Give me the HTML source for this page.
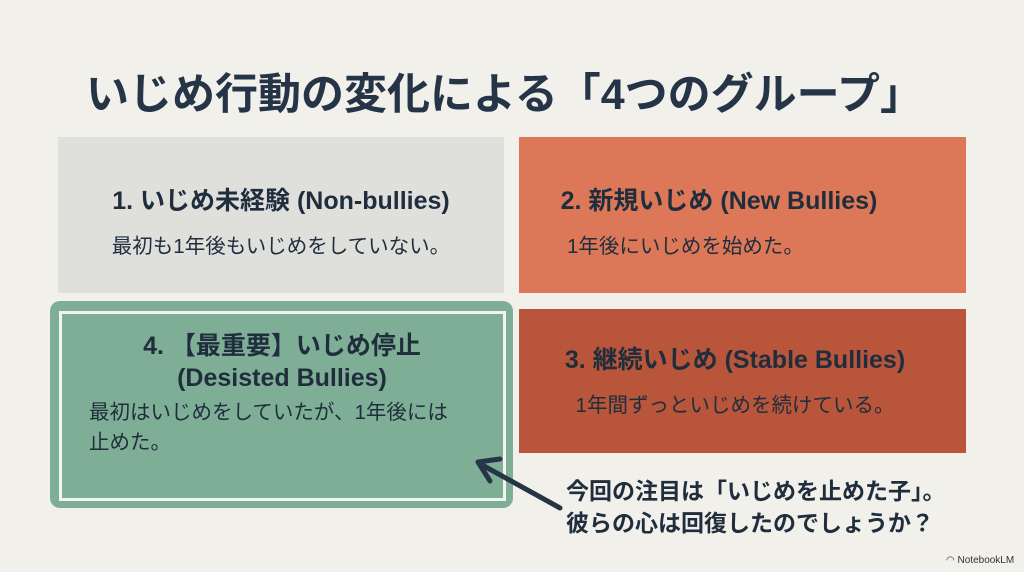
<!DOCTYPE html>
<html><head><meta charset="utf-8"><style>
body{margin:0;width:1024px;height:572px;background:#f1f0ea;position:relative;overflow:hidden;font-family:"Liberation Sans","Noto Sans CJK JP",sans-serif;color:#1f2d3d}
.a{position:absolute}
.t{font-weight:bold}
</style></head><body>
<div class="a t" style="left:86px;top:60px;font-size:43px;color:#253446;white-space:nowrap">いじめ行動の変化による「4つのグループ」</div>

<div class="a" style="left:58px;top:137px;width:446px;height:156px;background:#dfdfdc"></div>
<div class="a t" style="left:58px;width:446px;top:181px;text-align:center;font-size:25px;white-space:nowrap">1. いじめ未経験 (Non-bullies)</div>
<div class="a" style="left:58px;width:446px;top:229px;text-align:center;font-size:20.5px;white-space:nowrap">最初も1年後もいじめをしていない。</div>

<div class="a" style="left:519px;top:137px;width:447px;height:156px;background:#dc7858"></div>
<div class="a t" style="left:519px;width:400px;top:181px;text-align:center;font-size:25px;white-space:nowrap">2. 新規いじめ (New Bullies)</div>
<div class="a" style="left:567px;top:229px;font-size:20.5px">1年後にいじめを始めた。</div>

<div class="a" style="left:519px;top:309px;width:447px;height:144px;background:#b8553a"></div>
<div class="a t" style="left:519px;width:432px;top:340px;text-align:center;font-size:25px;white-space:nowrap">3. 継続いじめ (Stable Bullies)</div>
<div class="a" style="left:519px;width:432px;top:388px;text-align:center;font-size:20.5px;white-space:nowrap">1年間ずっといじめを続けている。</div>

<div class="a" style="left:50px;top:301px;width:463px;height:207px;background:#7fae96;border-radius:10px"></div>
<div class="a" style="left:59px;top:311px;width:441px;height:184px;border:3px solid #f4f4ee"></div>
<div class="a t" style="left:58px;width:448px;top:330px;text-align:center;font-size:25px;line-height:32px;white-space:nowrap">4. 【最重要】いじめ停止<br>(Desisted Bullies)</div>
<div class="a" style="left:89px;top:398px;font-size:20.5px;line-height:30px;white-space:nowrap">最初はいじめをしていたが、1年後には<br>止めた。</div>

<svg class="a" style="left:0;top:0" width="1024" height="572"><line x1="560" y1="508" x2="484" y2="466" stroke="#253446" stroke-width="5" stroke-linecap="round"/><polyline points="500,459 478,462 490,481" fill="none" stroke="#253446" stroke-width="5" stroke-linecap="round" stroke-linejoin="round"/></svg>

<div class="a t" style="left:566px;top:475px;font-size:23px;line-height:32px;white-space:nowrap">今回の注目は「いじめを止めた子」。<br>彼らの心は回復したのでしょうか？</div>
<div class="a" style="left:946px;top:555px;font-size:10px;color:#333">◠ NotebookLM</div>
</body></html>
